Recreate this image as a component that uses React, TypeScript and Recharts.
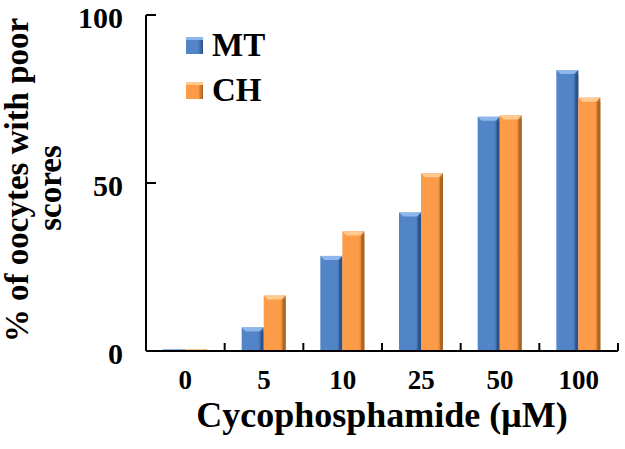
import React from "react";
import { BarChart, Bar, XAxis, YAxis } from "recharts";

const doses = ["0", "5", "10", "25", "50", "100"];
const mtValues = [0.5, 7.0, 28.3, 41.2, 69.7, 83.6];
const chValues = [0.5, 16.5, 35.6, 52.9, 70.1, 75.4];
const yTicks = [0, 50, 100];
const seriesNames = ["MT", "CH"];

const data = doses.map((d, i) => ({ dose: d, MT: mtValues[i], CH: chValues[i] }));

const FONT = '"Liberation Serif", "Times New Roman", serif';
const AXIS_X = 146;
const AXIS_Y = 351;

const palette: Record<string, { main: string; light: string; dark: string }> = {
  MT: { main: "#5185c8", light: "#8fb6ea", dark: "#2c4f85" },
  CH: { main: "#fd9c48", light: "#ffc98f", dark: "#a7611f" },
};

// bevelled bar: gradient body, lighter top facet, dark right edge
const makeBar = (key: string) => (props: any) => {
  const { x, y, width, height } = props;
  if (!height || height <= 0) return <g />;
  const c = palette[key];
  const b = Math.min(4, height / 2);
  return (
    <g>
      <rect x={x} y={y} width={width} height={height} fill={`url(#grad-${key})`} />
      <polygon
        points={`${x},${y} ${x + width},${y} ${x + width - b},${y + b} ${x + b},${y + b}`}
        fill={c.light}
      />
      <rect x={x + width - 3} y={y + b} width={3} height={height - b} fill={c.dark} opacity={0.8} />
    </g>
  );
};

const YTick = (props: any) => {
  const { y, payload } = props;
  return (
    <g>
      <line x1={AXIS_X} x2={AXIS_X + 10} y1={y} y2={y} stroke="#000" strokeWidth={2} />
      <text x={123} y={y} dy={2} textAnchor="end" dominantBaseline="central" fontFamily={FONT} fontWeight="bold" fontSize={30} fill="#000">
        {payload.value}
      </text>
    </g>
  );
};

const XTick = (props: any) => {
  const { x, payload, visibleTicksCount } = props;
  const band = (618 - AXIS_X) / (visibleTicksCount || doses.length);
  const bx = x + band / 2;
  return (
    <g>
      <line x1={bx} x2={bx} y1={AXIS_Y} y2={AXIS_Y - 8} stroke="#000" strokeWidth={2} />
      <text x={x} y={389} textAnchor="middle" fontFamily={FONT} fontWeight="bold" fontSize={27} fill="#000">
        {payload.value}
      </text>
    </g>
  );
};

const XTitle = () => (
  <text x={382} y={427} textAnchor="middle" fontFamily={FONT} fontWeight="bold" fontSize={36} fill="#000">
    Cycophosphamide (μM)
  </text>
);

const YTitle = () => (
  <g fontFamily={FONT} fontWeight="bold" fontSize={33} fill="#000">
    <text transform="translate(28,180) rotate(-90)" textAnchor="middle">% of oocytes with poor</text>
    <text transform="translate(61,188) rotate(-90)" textAnchor="middle">scores</text>
  </g>
);

export default function App() {
  return (
    <div style={{ position: "absolute", left: 0, top: 0, width: 625, height: 449, background: "#fff" }}>
      <BarChart
        width={625}
        height={449}
        data={data}
        margin={{ top: 15, right: 7, bottom: 38, left: 0 }}
        barGap={0}
        barSize={22}
      >
        <defs>
          {seriesNames.map((k) => (
            <linearGradient key={k} id={`grad-${k}`} x1="0" y1="0" x2="1" y2="0">
              <stop offset="0%" stopColor={palette[k].main} />
              <stop offset="75%" stopColor={palette[k].main} />
              <stop offset="100%" stopColor={palette[k].dark} />
            </linearGradient>
          ))}
        </defs>
        <XAxis
          dataKey="dose"
          height={60}
          axisLine={{ stroke: "#000", strokeWidth: 2 }}
          tickLine={false}
          tick={<XTick />}
          interval={0}
          label={{ content: () => <XTitle /> }}
        />
        <YAxis
          width={146}
          domain={[0, 100]}
          ticks={yTicks}
          axisLine={{ stroke: "#000", strokeWidth: 2 }}
          tickLine={false}
          tick={<YTick />}
          label={{ content: () => <YTitle /> }}
        />
        {seriesNames.map((k) => (
          <Bar key={k} dataKey={k} fill={palette[k].main} shape={makeBar(k)} isAnimationActive={false} />
        ))}
      </BarChart>
      <div style={{ position: "absolute", left: 186, top: 29, fontFamily: FONT, fontWeight: "bold", fontSize: 33 }}>
        {seriesNames.map((k, i) => (
          <div key={k} style={{ display: "flex", alignItems: "center", height: 33, lineHeight: "33px", marginBottom: i === 0 ? 12 : 0 }}>
            <span
              style={{
                display: "inline-block",
                width: 17,
                height: 17,
                marginRight: 9,
                background: `linear-gradient(to right, ${palette[k].main} 70%, ${palette[k].dark})`,
                borderTop: `3px solid ${palette[k].light}`,
                boxSizing: "border-box",
              }}
            />
            <span>{k}</span>
          </div>
        ))}
      </div>
    </div>
  );
}
